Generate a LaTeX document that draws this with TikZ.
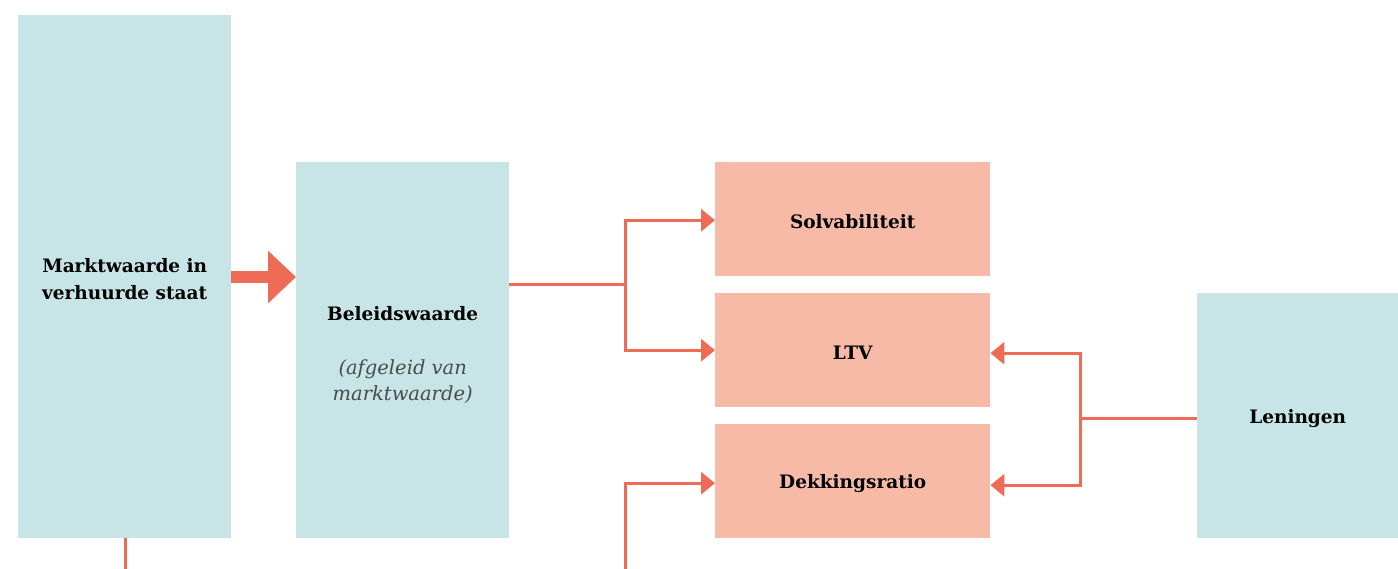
\documentclass[tikz,border=0pt]{standalone}
\usepackage{fontspec}
\setmainfont{DejaVu Serif}
\usetikzlibrary{arrows.meta}
\definecolor{boxteal}{HTML}{C7E5E6}
\definecolor{boxsalmon}{HTML}{F7BAA7}
\definecolor{linered}{HTML}{EE6B55}
\definecolor{subgray}{HTML}{4A4A4A}
\newcommand{\subtxt}[1]{\textcolor{subgray}{\fontsize{19.5}{26}\selectfont\mdseries\itshape #1}}
\tikzset{
  tealbox/.style={fill=boxteal, draw=none, anchor=north west, inner sep=0pt, align=center, font=\fontsize{18.5}{27}\selectfont\bfseries},
  salmonbox/.style={fill=boxsalmon, draw=none, anchor=north west, inner sep=0pt, align=center, minimum width=275pt, minimum height=114pt, font=\fontsize{18.5}{27}\selectfont\bfseries},
  conn/.style={draw=linered, line width=3pt},
  connarrow/.style={conn, -{Triangle[length=14pt,width=22pt]}},
}
\begin{document}
\begin{tikzpicture}[x=1pt,y=-1pt]
\useasboundingbox (0,0) rectangle (1398,569);
\node[tealbox, minimum width=213pt, minimum height=523pt] (mw) at (18,15) {\rule{0pt}{18pt}Marktwaarde in\\verhuurde staat};
\node[tealbox, minimum width=213pt, minimum height=376pt] (bw) at (296,162) {\rule{0pt}{24pt}Beleidswaarde\\[27pt]\subtxt{(afgeleid van}\\[-1pt]\subtxt{marktwaarde)}};
\node[salmonbox] (sol) at (715,162) {\rule{0pt}{18pt}Solvabiliteit};
\node[salmonbox] (ltv) at (715,293) {\rule{0pt}{18pt}LTV};
\node[salmonbox] (dek) at (715,424) {\rule{0pt}{18pt}Dekkingsratio};
\node[tealbox, minimum width=201pt, minimum height=245pt] (len) at (1197,293) {\rule{0pt}{20pt}Leningen};
% big arrow
\draw[draw=linered, line width=11.5pt, -{Triangle[length=28pt,width=51pt]}] (mw.east |- 0,277) -- (bw.west |- 0,277);
% connectors
\coordinate (j1) at (625,285);
\draw[conn] (bw.east |- j1) -- (j1);
\draw[connarrow] (j1) |- ([yshift=-1pt]sol.west);
\draw[connarrow] (j1) |- (ltv.west);
\coordinate (j2) at (1080,418);
\draw[conn] (len.west |- j2) -- (j2);
\draw[connarrow] (j2) |- ([yshift=-3pt]ltv.east);
\draw[connarrow] (j2) |- ([yshift=-4pt]dek.east);
\coordinate (b1) at (625,569);
\draw[connarrow] (b1) |- ([yshift=-2pt]dek.west);
\coordinate (b2) at (125,569);
\draw[conn] (mw.south -| b2) -- (b2);
\end{tikzpicture}
\end{document}
